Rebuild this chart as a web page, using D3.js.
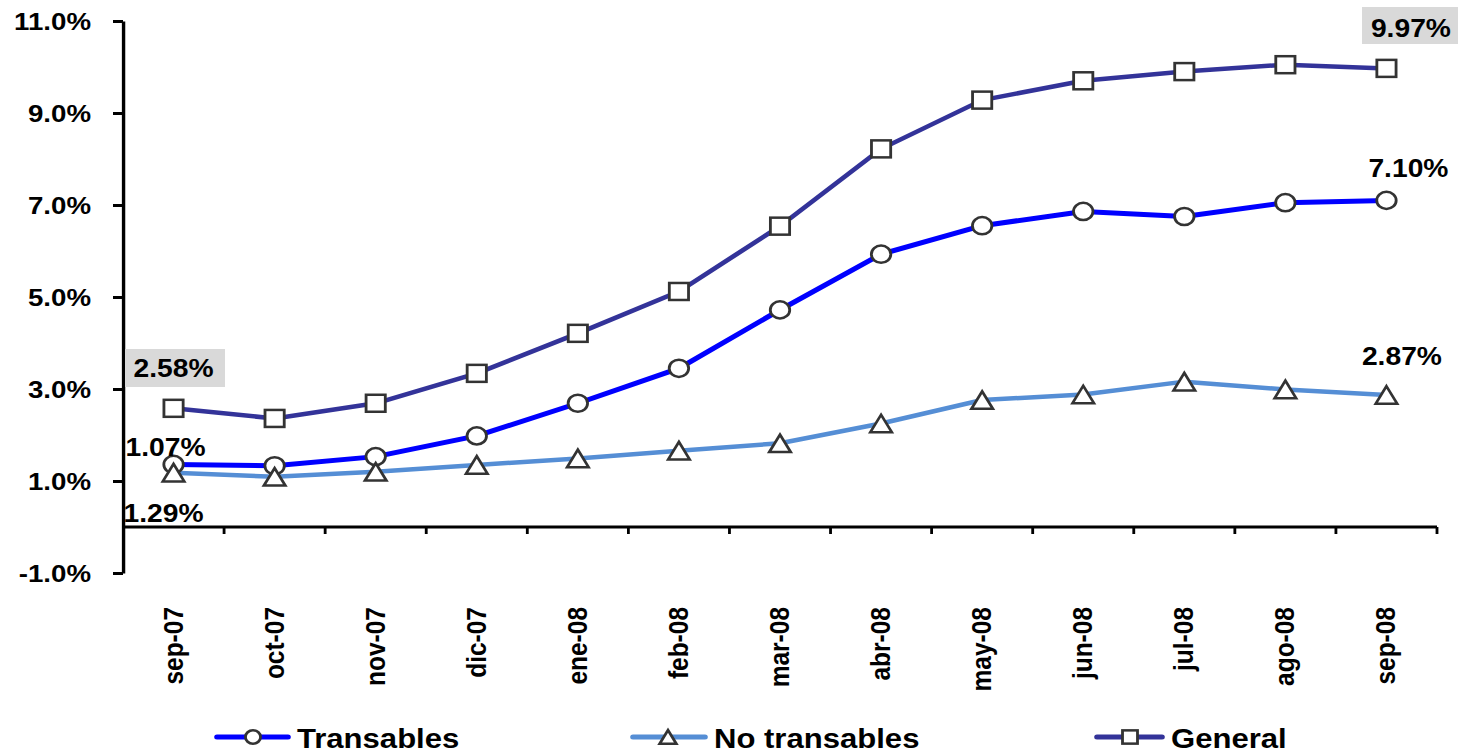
<!DOCTYPE html>
<html>
<head>
<meta charset="utf-8">
<script src="https://cdn.jsdelivr.net/npm/d3@7"></script>
<style>
  html, body { margin: 0; padding: 0; background: #fff; }
  svg { display: block; }
  text { font-family: "Liberation Sans", Arial, sans-serif; font-weight: bold; fill: #000; }
</style>
</head>
<body>
<svg id="chart" width="1458" height="755"></svg>
<script>
// ---- data ----
const categories = ["sep-07","oct-07","nov-07","dic-07","ene-08","feb-08","mar-08","abr-08","may-08","jun-08","jul-08","ago-08","sep-08"];
const transables   = [1.36, 1.33, 1.53, 1.98, 2.69, 3.45, 4.72, 5.93, 6.55, 6.86, 6.75, 7.05, 7.10];
const noTransables = [1.18, 1.09, 1.20, 1.35, 1.49, 1.66, 1.82, 2.25, 2.76, 2.88, 3.16, 2.99, 2.87];
const general      = [2.58, 2.36, 2.69, 3.34, 4.21, 5.12, 6.54, 8.22, 9.28, 9.70, 9.90, 10.05, 9.97];
const yTicks = [11, 9, 7, 5, 3, 1, -1];
const seriesNames = ["Transables", "No transables", "General"];
const labelTexts = ["2.58%", "1.07%", "1.29%", "9.97%", "7.10%", "2.87%"];

// ---- layout ----
const sx = 1.13;               // horizontal stretch of the original picture
const X = v => v / sx;         // screen x -> inner x
const svg = d3.select("#chart");
const g = svg.append("g").attr("transform", `scale(${sx},1)`);

const x = d3.scaleBand().domain(categories).range([X(123), X(1437)]);
const cx = d => x(d) + x.bandwidth() / 2;
const y = d3.scaleLinear().domain([-1, 11]).range([573, 21]);

// ---- axes ----
const yAxis = d3.axisLeft(y)
  .tickValues(yTicks)
  .tickFormat(d => d.toFixed(1) + "%")
  .tickSizeInner(X(10))
  .tickSizeOuter(0)
  .tickPadding(X(22));
const ya = g.append("g").attr("transform", `translate(${X(123)},0)`).call(yAxis);
ya.selectAll("path, line").attr("stroke", "#000").attr("stroke-width", 3);
ya.selectAll("text").attr("font-size", 24.5).attr("font-family", null).attr("dy", "0.36em");
ya.attr("font-family", null).attr("font-size", null);

// x axis line at 0
const xa = g.append("g");
xa.append("line")
  .attr("x1", x.range()[0]).attr("x2", x.range()[1])
  .attr("y1", y(0)).attr("y2", y(0))
  .attr("stroke", "#000").attr("stroke-width", 3);
const bounds = categories.slice(1).map(d => x(d)).concat([x.range()[1]]);
xa.selectAll("line.tick").data(bounds).join("line")
  .attr("class", "tick")
  .attr("x1", d => d).attr("x2", d => d)
  .attr("y1", y(0)).attr("y2", y(0) + 7)
  .attr("stroke", "#000").attr("stroke-width", 2.5);
xa.selectAll("text.cat").data(categories).join("text")
  .attr("class", "cat")
  .attr("transform", d => `translate(${cx(d) + X(9)},607) rotate(-90)`)
  .attr("text-anchor", "end")
  .attr("font-size", 24.5)
  .text(d => d);

// ---- series ----
const series = [
  { name: seriesNames[0], values: transables,   color: "#0000FF", width: 5,   marker: "circle" },
  { name: seriesNames[1], values: noTransables, color: "#558ED5", width: 4.5, marker: "triangle" },
  { name: seriesNames[2], values: general,      color: "#333399", width: 4.5, marker: "square" }
];

function drawMarker(sel, type, s) {
  if (type === "circle") {
    sel.append("circle").attr("r", 8.6 * s);
  } else if (type === "square") {
    sel.append("rect").attr("x", -8.5 * s).attr("y", -8.5 * s).attr("width", 17 * s).attr("height", 17 * s);
  } else {
    const w = 19 * s, h = 17.5 * s;
    sel.append("path").attr("d", `M0,${-h/2}L${w/2},${h/2}L${-w/2},${h/2}Z`);
  }
  sel.selectAll("circle, rect, path")
    .attr("fill", "#fff").attr("stroke", "#333").attr("stroke-width", 2.5)
    .attr("stroke-linejoin", "miter");
}

const line = d3.line().x((d, i) => cx(categories[i])).y(d => y(d));
series.forEach(s => {
  g.append("path").datum(s.values)
    .attr("d", line)
    .attr("fill", "none")
    .attr("stroke", s.color)
    .attr("stroke-width", s.width)
    .attr("stroke-linejoin", "round");
});
series.forEach(s => {
  s.values.forEach((v, i) => {
    const m = g.append("g").attr("transform", `translate(${cx(categories[i])},${y(v)})`);
    drawMarker(m, s.marker, 1);
  });
});

// ---- data labels ----
const last = categories.length - 1;
const ann = [
  { text: labelTexts[0], vals: general,      i: 0,    dx: 0,    dy: -31, box: [125, 225, 349, 387] },
  { text: labelTexts[1], vals: transables,   i: 0,    dx: -8,   dy: -8 },
  { text: labelTexts[2], vals: noTransables, i: 0,    dx: -10,  dy: 49 },
  { text: labelTexts[3], vals: general,      i: last, dx: 24.5, dy: -31, box: [1362, 1458, 7, 44] },
  { text: labelTexts[4], vals: transables,   i: last, dx: 22,   dy: -23 },
  { text: labelTexts[5], vals: noTransables, i: last, dx: 15.5, dy: -30 }
];
ann.forEach(a => {
  if (a.box) {
    g.append("rect")
      .attr("x", X(a.box[0])).attr("width", X(a.box[1] - a.box[0]))
      .attr("y", a.box[2]).attr("height", a.box[3] - a.box[2])
      .attr("fill", "#D9D9D9");
  }
  g.append("text")
    .attr("x", cx(categories[a.i]) + X(a.dx))
    .attr("y", y(a.vals[a.i]) + a.dy)
    .attr("text-anchor", "middle")
    .attr("font-size", 25)
    .text(a.text);
});

// ---- legend ----
const legendPos = [
  { x1: 217,  x2: 288,  mx: 253 },
  { x1: 633,  x2: 705,  mx: 668 },
  { x1: 1097, x2: 1162, mx: 1130 }
];
series.forEach((s, k) => {
  const p = legendPos[k];
  const lg = g.append("g");
  lg.append("line")
    .attr("x1", X(p.x1)).attr("x2", X(p.x2))
    .attr("y1", 737).attr("y2", 737)
    .attr("stroke", s.color).attr("stroke-width", 5)
    .attr("stroke-linecap", "round");
  const m = lg.append("g").attr("transform", `translate(${X(p.mx)},737)`);
  drawMarker(m, s.marker, 0.78);
  lg.append("text")
    .attr("x", X(p.x2 + 9))
    .attr("y", 748)
    .attr("font-size", 27.5)
    .text(s.name);
});
</script>
</body>
</html>
